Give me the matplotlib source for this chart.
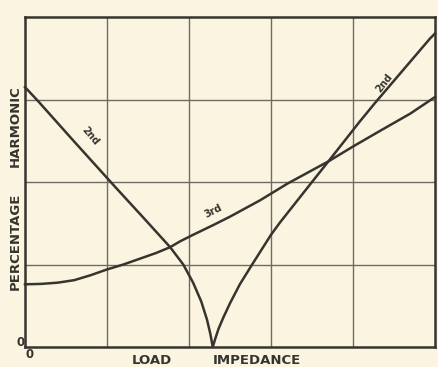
import matplotlib
matplotlib.use("Agg")
import matplotlib.pyplot as plt

# Harmonic distortion vs. load impedance (grid units: 5 columns x 4 rows)
second_x = [0.0, 0.16, 0.6, 1.1, 1.46, 1.77, 1.93, 2.05, 2.15, 2.22, 2.26, 2.29,
            2.32, 2.36, 2.42, 2.5, 2.62, 2.77, 3.0, 3.11, 3.5, 3.7, 4.08, 4.27, 4.94, 5.0]
second_y = [3.15, 2.98, 2.49, 1.94, 1.55, 1.21, 1.0, 0.78, 0.55, 0.33, 0.16, 0.0,
            0.1, 0.22, 0.36, 0.53, 0.76, 1.0, 1.36, 1.51, 2.0, 2.25, 2.73, 2.96, 3.74, 3.8]

third_x = [0.0, 0.2, 0.4, 0.6, 0.8, 1.0, 1.2, 1.4, 1.6, 1.77, 1.89, 2.05, 2.3, 2.5,
           2.87, 3.2, 3.7, 4.0, 4.33, 4.7, 5.0]
third_y = [0.76, 0.765, 0.78, 0.81, 0.87, 0.94, 1.0, 1.07, 1.14, 1.21, 1.28, 1.36,
           1.48, 1.58, 1.78, 1.98, 2.25, 2.43, 2.62, 2.83, 3.03]

curve_labels = [("2nd", 0.79, 2.56, -50), ("3rd", 2.3, 1.65, 27), ("2nd", 4.38, 3.2, 52)]

ink = "#35342f"
paper = "#fbf4e0"

fig = plt.figure(figsize=(4.39, 3.67), dpi=100, facecolor=paper)
ax = fig.add_axes([25 / 439, 20 / 367, 410 / 439, 330 / 367], facecolor=paper)
ax.set_xlim(0, 5)
ax.set_ylim(0, 4)

for gx in range(1, 5):
    ax.axvline(gx, color="#6e6c62", lw=1.0, zorder=1)
for gy in range(1, 4):
    ax.axhline(gy, color="#6e6c62", lw=1.0, zorder=1)

ax.plot(second_x, second_y, color=ink, lw=1.8, zorder=3, clip_on=False,
        solid_joinstyle="round")
ax.plot(third_x, third_y, color=ink, lw=1.8, zorder=3, clip_on=False,
        solid_joinstyle="round")

for text, lx, ly, rot in curve_labels:
    ax.text(lx, ly, text, rotation=rot, rotation_mode="anchor", ha="center",
            va="center", fontsize=7, fontweight="bold", color=ink, zorder=4)

for s in ax.spines.values():
    s.set_color(ink)
    s.set_linewidth(1.8)
ax.set_xticks([])
ax.set_yticks([])

label_kw = dict(fontsize=9.5, fontweight="bold", color=ink, ha="center", va="center")
fig.text(15 / 439, 1 - 126 / 367, "HARMONIC", rotation=90, **label_kw)
fig.text(15 / 439, 1 - 241 / 367, "PERCENTAGE", rotation=90, **label_kw)
fig.text(152 / 439, 1 - 360 / 367, "LOAD", **label_kw)
fig.text(257 / 439, 1 - 360 / 367, "IMPEDANCE", **label_kw)
fig.text(21 / 439, 1 - 343 / 367, "0", ha="center", va="center",
         fontsize=8.5, fontweight="bold", color=ink)
fig.text(30 / 439, 1 - 355 / 367, "0", ha="center", va="center",
         fontsize=8.5, fontweight="bold", color=ink)

fig.savefig("out.png", dpi=100, facecolor=paper)
